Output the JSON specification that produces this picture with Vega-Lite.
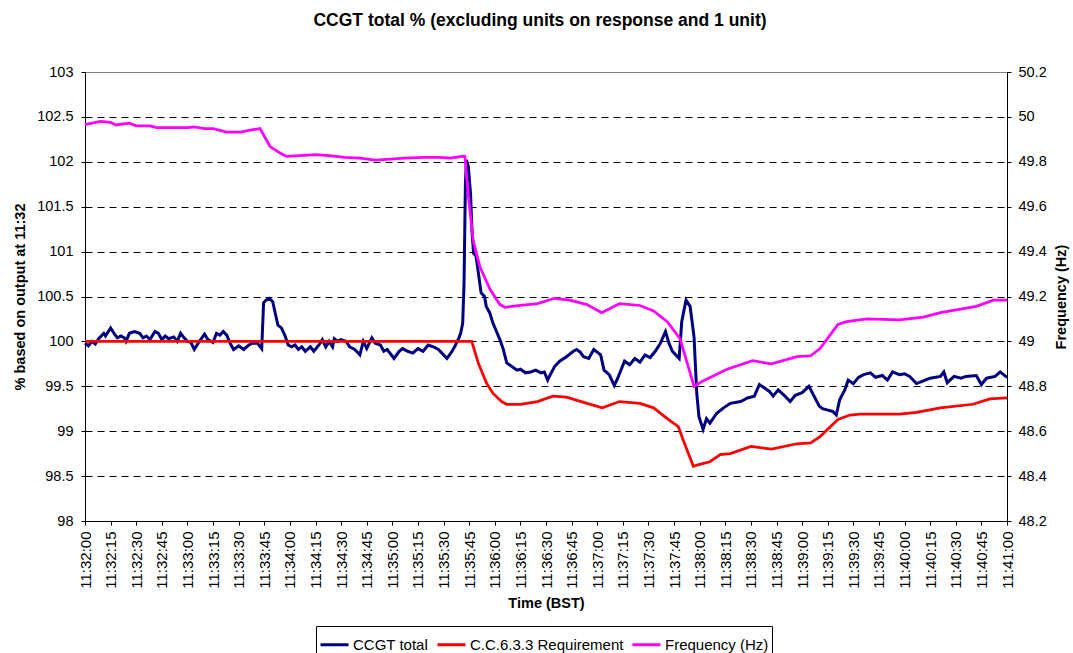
{
 "$schema": "https://vega.github.io/schema/vega-lite/v6.json",
 "width": 922,
 "height": 449,
 "autosize": {"type": "none"},
 "padding": {"left": 85, "top": 72, "right": 66, "bottom": 132},
 "background": "white",
 "title": {"text": "CCGT total % (excluding units on response and 1 unit)", "fontSize": 17.5, "fontWeight": "bold", "frame": "group", "anchor": "middle", "baseline": "alphabetic", "offset": 21, "dx": -6, "color": "#000"},
 "config": {
  "font": "Liberation Sans",
  "view": {"stroke": "#808080", "strokeWidth": 1},
  "axis": {"labelColor": "#000", "titleColor": "#000", "tickColor": "#000", "domainColor": "#000", "labelFontSize": 14.5, "titleFontSize": 14.5, "titleFontWeight": "bold", "tickSize": 4, "labelFlush": false}
 },
 "data": {"values": [
  {"t":0,"series":"CCGT total","value":99.98},{"t":2,"series":"CCGT total","value":99.95},{"t":4,"series":"CCGT total","value":100.0},{"t":6,"series":"CCGT total","value":99.97},{"t":8,"series":"CCGT total","value":100.03},{"t":11,"series":"CCGT total","value":100.09},{"t":12,"series":"CCGT total","value":100.06},{"t":15,"series":"CCGT total","value":100.15},{"t":17,"series":"CCGT total","value":100.09},{"t":19,"series":"CCGT total","value":100.04},{"t":21,"series":"CCGT total","value":100.06},{"t":23,"series":"CCGT total","value":100.04},{"t":24,"series":"CCGT total","value":100.0},{"t":26,"series":"CCGT total","value":100.09},{"t":29,"series":"CCGT total","value":100.11},{"t":32,"series":"CCGT total","value":100.09},{"t":34,"series":"CCGT total","value":100.04},{"t":36,"series":"CCGT total","value":100.06},{"t":38,"series":"CCGT total","value":100.02},{"t":41,"series":"CCGT total","value":100.11},{"t":43,"series":"CCGT total","value":100.09},{"t":45,"series":"CCGT total","value":100.02},{"t":47,"series":"CCGT total","value":100.06},{"t":49,"series":"CCGT total","value":100.03},{"t":52,"series":"CCGT total","value":100.05},{"t":54,"series":"CCGT total","value":100.0},{"t":56,"series":"CCGT total","value":100.09},{"t":58,"series":"CCGT total","value":100.04},{"t":60,"series":"CCGT total","value":100.0},{"t":62,"series":"CCGT total","value":99.99},{"t":64,"series":"CCGT total","value":99.91},{"t":67,"series":"CCGT total","value":100.0},{"t":70,"series":"CCGT total","value":100.08},{"t":72,"series":"CCGT total","value":100.02},{"t":75,"series":"CCGT total","value":99.99},{"t":77,"series":"CCGT total","value":100.09},{"t":79,"series":"CCGT total","value":100.07},{"t":81,"series":"CCGT total","value":100.11},{"t":83,"series":"CCGT total","value":100.07},{"t":85,"series":"CCGT total","value":99.98},{"t":87,"series":"CCGT total","value":99.91},{"t":90,"series":"CCGT total","value":99.95},{"t":93,"series":"CCGT total","value":99.91},{"t":96,"series":"CCGT total","value":99.96},{"t":98,"series":"CCGT total","value":99.98},{"t":101,"series":"CCGT total","value":99.98},{"t":103.5,"series":"CCGT total","value":99.92},{"t":104.6,"series":"CCGT total","value":100.43},{"t":106,"series":"CCGT total","value":100.46},{"t":108,"series":"CCGT total","value":100.48},{"t":110,"series":"CCGT total","value":100.44},{"t":111,"series":"CCGT total","value":100.35},{"t":113,"series":"CCGT total","value":100.18},{"t":115,"series":"CCGT total","value":100.15},{"t":117,"series":"CCGT total","value":100.07},{"t":119,"series":"CCGT total","value":99.96},{"t":121,"series":"CCGT total","value":99.94},{"t":123,"series":"CCGT total","value":99.96},{"t":125,"series":"CCGT total","value":99.91},{"t":127,"series":"CCGT total","value":99.94},{"t":129,"series":"CCGT total","value":99.89},{"t":132,"series":"CCGT total","value":99.94},{"t":134,"series":"CCGT total","value":99.89},{"t":137,"series":"CCGT total","value":99.96},{"t":139,"series":"CCGT total","value":100.02},{"t":141,"series":"CCGT total","value":99.94},{"t":143,"series":"CCGT total","value":100.0},{"t":145,"series":"CCGT total","value":99.94},{"t":146,"series":"CCGT total","value":100.03},{"t":148,"series":"CCGT total","value":100.0},{"t":150,"series":"CCGT total","value":100.02},{"t":153,"series":"CCGT total","value":100.0},{"t":155,"series":"CCGT total","value":99.94},{"t":158,"series":"CCGT total","value":99.91},{"t":161,"series":"CCGT total","value":99.85},{"t":163,"series":"CCGT total","value":100.0},{"t":165,"series":"CCGT total","value":99.92},{"t":168,"series":"CCGT total","value":100.04},{"t":170,"series":"CCGT total","value":99.98},{"t":173,"series":"CCGT total","value":99.96},{"t":175,"series":"CCGT total","value":99.89},{"t":177,"series":"CCGT total","value":99.91},{"t":181,"series":"CCGT total","value":99.81},{"t":184,"series":"CCGT total","value":99.89},{"t":186,"series":"CCGT total","value":99.92},{"t":189,"series":"CCGT total","value":99.89},{"t":192,"series":"CCGT total","value":99.87},{"t":195,"series":"CCGT total","value":99.92},{"t":198,"series":"CCGT total","value":99.89},{"t":201,"series":"CCGT total","value":99.96},{"t":204,"series":"CCGT total","value":99.94},{"t":207,"series":"CCGT total","value":99.91},{"t":210,"series":"CCGT total","value":99.85},{"t":212,"series":"CCGT total","value":99.81},{"t":215,"series":"CCGT total","value":99.89},{"t":217,"series":"CCGT total","value":99.96},{"t":219,"series":"CCGT total","value":100.04},{"t":220,"series":"CCGT total","value":100.09},{"t":221.2,"series":"CCGT total","value":100.2},{"t":222,"series":"CCGT total","value":100.65},{"t":222.8,"series":"CCGT total","value":101.76},{"t":223.4,"series":"CCGT total","value":102.02},{"t":224.5,"series":"CCGT total","value":101.95},{"t":225.8,"series":"CCGT total","value":101.65},{"t":226.7,"series":"CCGT total","value":101.21},{"t":227.6,"series":"CCGT total","value":100.98},{"t":229,"series":"CCGT total","value":100.95},{"t":230.4,"series":"CCGT total","value":100.76},{"t":232,"series":"CCGT total","value":100.54},{"t":234,"series":"CCGT total","value":100.5},{"t":235,"series":"CCGT total","value":100.39},{"t":237,"series":"CCGT total","value":100.32},{"t":239,"series":"CCGT total","value":100.2},{"t":241,"series":"CCGT total","value":100.11},{"t":243,"series":"CCGT total","value":100.02},{"t":245,"series":"CCGT total","value":99.91},{"t":247,"series":"CCGT total","value":99.76},{"t":250,"series":"CCGT total","value":99.72},{"t":253,"series":"CCGT total","value":99.68},{"t":255,"series":"CCGT total","value":99.69},{"t":258,"series":"CCGT total","value":99.65},{"t":261,"series":"CCGT total","value":99.66},{"t":264,"series":"CCGT total","value":99.68},{"t":267,"series":"CCGT total","value":99.65},{"t":269,"series":"CCGT total","value":99.66},{"t":271,"series":"CCGT total","value":99.57},{"t":272,"series":"CCGT total","value":99.61},{"t":275,"series":"CCGT total","value":99.72},{"t":278,"series":"CCGT total","value":99.78},{"t":282,"series":"CCGT total","value":99.83},{"t":286,"series":"CCGT total","value":99.89},{"t":288,"series":"CCGT total","value":99.91},{"t":290,"series":"CCGT total","value":99.88},{"t":292,"series":"CCGT total","value":99.83},{"t":295,"series":"CCGT total","value":99.81},{"t":298,"series":"CCGT total","value":99.91},{"t":302,"series":"CCGT total","value":99.85},{"t":304,"series":"CCGT total","value":99.68},{"t":307,"series":"CCGT total","value":99.63},{"t":310,"series":"CCGT total","value":99.51},{"t":312,"series":"CCGT total","value":99.59},{"t":316,"series":"CCGT total","value":99.78},{"t":319,"series":"CCGT total","value":99.74},{"t":322,"series":"CCGT total","value":99.81},{"t":325,"series":"CCGT total","value":99.77},{"t":328,"series":"CCGT total","value":99.85},{"t":331,"series":"CCGT total","value":99.82},{"t":334,"series":"CCGT total","value":99.89},{"t":337,"series":"CCGT total","value":99.98},{"t":340,"series":"CCGT total","value":100.11},{"t":342,"series":"CCGT total","value":99.98},{"t":344,"series":"CCGT total","value":99.89},{"t":346,"series":"CCGT total","value":99.85},{"t":348,"series":"CCGT total","value":99.81},{"t":349.5,"series":"CCGT total","value":100.22},{"t":352,"series":"CCGT total","value":100.46},{"t":354.4,"series":"CCGT total","value":100.39},{"t":356.7,"series":"CCGT total","value":100.05},{"t":358.3,"series":"CCGT total","value":99.42},{"t":359.6,"series":"CCGT total","value":99.16},{"t":362,"series":"CCGT total","value":99.02},{"t":364,"series":"CCGT total","value":99.14},{"t":366,"series":"CCGT total","value":99.09},{"t":370,"series":"CCGT total","value":99.2},{"t":374,"series":"CCGT total","value":99.26},{"t":378,"series":"CCGT total","value":99.31},{"t":384,"series":"CCGT total","value":99.33},{"t":388,"series":"CCGT total","value":99.37},{"t":392,"series":"CCGT total","value":99.39},{"t":395,"series":"CCGT total","value":99.52},{"t":398,"series":"CCGT total","value":99.48},{"t":401,"series":"CCGT total","value":99.44},{"t":403,"series":"CCGT total","value":99.39},{"t":406,"series":"CCGT total","value":99.46},{"t":410,"series":"CCGT total","value":99.39},{"t":413,"series":"CCGT total","value":99.33},{"t":416,"series":"CCGT total","value":99.4},{"t":420,"series":"CCGT total","value":99.43},{"t":424,"series":"CCGT total","value":99.5},{"t":427,"series":"CCGT total","value":99.39},{"t":430,"series":"CCGT total","value":99.28},{"t":432,"series":"CCGT total","value":99.25},{"t":434,"series":"CCGT total","value":99.24},{"t":438,"series":"CCGT total","value":99.22},{"t":440,"series":"CCGT total","value":99.18},{"t":442,"series":"CCGT total","value":99.35},{"t":445,"series":"CCGT total","value":99.46},{"t":447,"series":"CCGT total","value":99.57},{"t":450,"series":"CCGT total","value":99.53},{"t":453,"series":"CCGT total","value":99.6},{"t":456,"series":"CCGT total","value":99.63},{"t":460,"series":"CCGT total","value":99.65},{"t":463,"series":"CCGT total","value":99.6},{"t":467,"series":"CCGT total","value":99.62},{"t":470,"series":"CCGT total","value":99.57},{"t":473,"series":"CCGT total","value":99.66},{"t":477,"series":"CCGT total","value":99.63},{"t":480,"series":"CCGT total","value":99.64},{"t":483,"series":"CCGT total","value":99.61},{"t":487,"series":"CCGT total","value":99.53},{"t":491,"series":"CCGT total","value":99.56},{"t":495,"series":"CCGT total","value":99.59},{"t":501,"series":"CCGT total","value":99.61},{"t":503,"series":"CCGT total","value":99.66},{"t":505,"series":"CCGT total","value":99.54},{"t":509,"series":"CCGT total","value":99.61},{"t":513,"series":"CCGT total","value":99.59},{"t":516,"series":"CCGT total","value":99.61},{"t":522,"series":"CCGT total","value":99.62},{"t":525,"series":"CCGT total","value":99.52},{"t":528,"series":"CCGT total","value":99.59},{"t":533,"series":"CCGT total","value":99.61},{"t":536,"series":"CCGT total","value":99.66},{"t":540,"series":"CCGT total","value":99.6},
  {"t":0,"series":"C.C.6.3.3 Requirement","value":100.0},{"t":226.5,"series":"C.C.6.3.3 Requirement","value":100.0},{"t":230.5,"series":"C.C.6.3.3 Requirement","value":99.75},{"t":235.3,"series":"C.C.6.3.3 Requirement","value":99.53},{"t":239,"series":"C.C.6.3.3 Requirement","value":99.42},{"t":244,"series":"C.C.6.3.3 Requirement","value":99.33},{"t":247,"series":"C.C.6.3.3 Requirement","value":99.3},{"t":255,"series":"C.C.6.3.3 Requirement","value":99.3},{"t":265,"series":"C.C.6.3.3 Requirement","value":99.33},{"t":274,"series":"C.C.6.3.3 Requirement","value":99.39},{"t":282,"series":"C.C.6.3.3 Requirement","value":99.38},{"t":294,"series":"C.C.6.3.3 Requirement","value":99.31},{"t":303,"series":"C.C.6.3.3 Requirement","value":99.26},{"t":313,"series":"C.C.6.3.3 Requirement","value":99.33},{"t":325,"series":"C.C.6.3.3 Requirement","value":99.31},{"t":333,"series":"C.C.6.3.3 Requirement","value":99.26},{"t":341,"series":"C.C.6.3.3 Requirement","value":99.14},{"t":347.5,"series":"C.C.6.3.3 Requirement","value":99.05},{"t":350.4,"series":"C.C.6.3.3 Requirement","value":98.9},{"t":356.3,"series":"C.C.6.3.3 Requirement","value":98.61},{"t":360,"series":"C.C.6.3.3 Requirement","value":98.63},{"t":366,"series":"C.C.6.3.3 Requirement","value":98.66},{"t":372,"series":"C.C.6.3.3 Requirement","value":98.74},{"t":378,"series":"C.C.6.3.3 Requirement","value":98.75},{"t":390,"series":"C.C.6.3.3 Requirement","value":98.83},{"t":402,"series":"C.C.6.3.3 Requirement","value":98.8},{"t":417,"series":"C.C.6.3.3 Requirement","value":98.86},{"t":425,"series":"C.C.6.3.3 Requirement","value":98.87},{"t":430.5,"series":"C.C.6.3.3 Requirement","value":98.94},{"t":441,"series":"C.C.6.3.3 Requirement","value":99.13},{"t":448,"series":"C.C.6.3.3 Requirement","value":99.18},{"t":454,"series":"C.C.6.3.3 Requirement","value":99.19},{"t":477,"series":"C.C.6.3.3 Requirement","value":99.19},{"t":487,"series":"C.C.6.3.3 Requirement","value":99.21},{"t":501,"series":"C.C.6.3.3 Requirement","value":99.26},{"t":520,"series":"C.C.6.3.3 Requirement","value":99.3},{"t":530,"series":"C.C.6.3.3 Requirement","value":99.36},{"t":540,"series":"C.C.6.3.3 Requirement","value":99.37},
  {"t":0,"series":"Frequency (Hz)","value":49.966},{"t":9,"series":"Frequency (Hz)","value":49.98},{"t":15,"series":"Frequency (Hz)","value":49.976},{"t":18,"series":"Frequency (Hz)","value":49.964},{"t":26,"series":"Frequency (Hz)","value":49.972},{"t":30,"series":"Frequency (Hz)","value":49.96},{"t":38,"series":"Frequency (Hz)","value":49.96},{"t":42,"series":"Frequency (Hz)","value":49.952},{"t":52,"series":"Frequency (Hz)","value":49.952},{"t":60,"series":"Frequency (Hz)","value":49.952},{"t":64,"series":"Frequency (Hz)","value":49.956},{"t":70,"series":"Frequency (Hz)","value":49.948},{"t":75,"series":"Frequency (Hz)","value":49.948},{"t":83,"series":"Frequency (Hz)","value":49.932},{"t":91,"series":"Frequency (Hz)","value":49.932},{"t":96,"series":"Frequency (Hz)","value":49.94},{"t":102.5,"series":"Frequency (Hz)","value":49.948},{"t":108.4,"series":"Frequency (Hz)","value":49.868},{"t":114,"series":"Frequency (Hz)","value":49.84},{"t":118,"series":"Frequency (Hz)","value":49.824},{"t":126,"series":"Frequency (Hz)","value":49.828},{"t":135,"series":"Frequency (Hz)","value":49.832},{"t":143,"series":"Frequency (Hz)","value":49.828},{"t":152,"series":"Frequency (Hz)","value":49.82},{"t":161,"series":"Frequency (Hz)","value":49.816},{"t":170,"series":"Frequency (Hz)","value":49.808},{"t":179,"series":"Frequency (Hz)","value":49.812},{"t":187,"series":"Frequency (Hz)","value":49.816},{"t":199,"series":"Frequency (Hz)","value":49.82},{"t":208,"series":"Frequency (Hz)","value":49.82},{"t":214,"series":"Frequency (Hz)","value":49.816},{"t":221,"series":"Frequency (Hz)","value":49.824},{"t":222.5,"series":"Frequency (Hz)","value":49.824},{"t":224.5,"series":"Frequency (Hz)","value":49.648},{"t":227.4,"series":"Frequency (Hz)","value":49.448},{"t":231.3,"series":"Frequency (Hz)","value":49.332},{"t":237.2,"series":"Frequency (Hz)","value":49.232},{"t":243,"series":"Frequency (Hz)","value":49.164},{"t":246,"series":"Frequency (Hz)","value":49.152},{"t":255,"series":"Frequency (Hz)","value":49.16},{"t":265,"series":"Frequency (Hz)","value":49.168},{"t":275,"series":"Frequency (Hz)","value":49.192},{"t":284,"series":"Frequency (Hz)","value":49.184},{"t":294,"series":"Frequency (Hz)","value":49.164},{"t":302.6,"series":"Frequency (Hz)","value":49.128},{"t":313,"series":"Frequency (Hz)","value":49.168},{"t":325,"series":"Frequency (Hz)","value":49.16},{"t":333,"series":"Frequency (Hz)","value":49.136},{"t":341,"series":"Frequency (Hz)","value":49.088},{"t":348.5,"series":"Frequency (Hz)","value":49.012},{"t":356.7,"series":"Frequency (Hz)","value":48.8},{"t":362,"series":"Frequency (Hz)","value":48.824},{"t":376,"series":"Frequency (Hz)","value":48.876},{"t":391,"series":"Frequency (Hz)","value":48.914},{"t":402,"series":"Frequency (Hz)","value":48.9},{"t":417,"series":"Frequency (Hz)","value":48.932},{"t":425,"series":"Frequency (Hz)","value":48.936},{"t":430.5,"series":"Frequency (Hz)","value":48.968},{"t":441,"series":"Frequency (Hz)","value":49.076},{"t":446,"series":"Frequency (Hz)","value":49.088},{"t":458,"series":"Frequency (Hz)","value":49.1},{"t":477,"series":"Frequency (Hz)","value":49.096},{"t":491,"series":"Frequency (Hz)","value":49.108},{"t":501,"series":"Frequency (Hz)","value":49.128},{"t":522,"series":"Frequency (Hz)","value":49.156},{"t":532,"series":"Frequency (Hz)","value":49.184},{"t":540,"series":"Frequency (Hz)","value":49.184}
 ]},
 "encoding": {
  "x": {"field": "t", "type": "quantitative", "scale": {"domain": [0, 540], "nice": false, "zero": false},
   "axis": {"values": [0,15,30,45,60,75,90,105,120,135,150,165,180,195,210,225,240,255,270,285,300,315,330,345,360,375,390,405,420,435,450,465,480,495,510,525,540],
    "labelExpr": "utcFormat((datum.value + 41520) * 1000, '%H:%M:%S')", "labelAngle": 270, "labelFontSize": 15, "labelPadding": 6, "grid": false, "title": "Time (BST)", "titlePadding": 8}}
 },
 "layer": [
  {
   "encoding": {"y": {"field": "value", "type": "quantitative", "scale": {"domain": [98, 103], "nice": false, "zero": false},
    "axis": {"values": [98,98.5,99,99.5,100,100.5,101,101.5,102,102.5,103], "format": "~g", "title": "% based on output at 11:32", "labelPadding": 8, "titlePadding": 9,
     "grid": true, "gridColor": "#000", "gridDash": [7, 5], "gridWidth": 1,
     "gridOpacity": {"condition": {"test": "datum.value >= 103 || datum.value <= 98", "value": 0}, "value": 1}}}},
   "layer": [
    {"transform": [{"filter": "datum.series === 'CCGT total'"}], "mark": {"type": "line", "strokeWidth": 3},
     "encoding": {"color": {"field": "series", "type": "nominal", "scale": {"domain": ["CCGT total", "C.C.6.3.3 Requirement", "Frequency (Hz)"], "range": ["#000080", "#FF0000", "#FF00FF"]},
      "legend": {"orient": "none", "legendX": 231, "legendY": 554, "direction": "horizontal", "title": null, "symbolType": "stroke", "symbolSize": 784, "symbolStrokeWidth": 3, "labelFontSize": 15, "labelColor": "#000", "labelOffset": 3, "columnPadding": 2, "padding": 3, "strokeColor": "#000"}}}},
    {"transform": [{"filter": "datum.series === 'C.C.6.3.3 Requirement'"}], "mark": {"type": "line", "strokeWidth": 2.75},
     "encoding": {"color": {"field": "series", "type": "nominal", "scale": {"domain": ["CCGT total", "C.C.6.3.3 Requirement", "Frequency (Hz)"], "range": ["#000080", "#FF0000", "#FF00FF"]},
      "legend": {"orient": "none", "legendX": 231, "legendY": 554, "direction": "horizontal", "title": null, "symbolType": "stroke", "symbolSize": 784, "symbolStrokeWidth": 3, "labelFontSize": 15, "labelColor": "#000", "labelOffset": 3, "columnPadding": 2, "padding": 3, "strokeColor": "#000"}}}}
   ]
  },
  {"transform": [{"filter": "datum.series === 'Frequency (Hz)'"}], "mark": {"type": "line", "strokeWidth": 2.75},
   "encoding": {
    "y": {"field": "value", "type": "quantitative", "scale": {"domain": [48.2, 50.2], "nice": false, "zero": false},
     "axis": {"orient": "right", "values": [48.2,48.4,48.6,48.8,49,49.2,49.4,49.6,49.8,50,50.2], "format": "~g", "title": "Frequency (Hz)", "titleAngle": 270, "titleBaseline": "top", "labelPadding": 7, "titlePadding": 8, "grid": false}},
    "color": {"field": "series", "type": "nominal", "scale": {"domain": ["CCGT total", "C.C.6.3.3 Requirement", "Frequency (Hz)"], "range": ["#000080", "#FF0000", "#FF00FF"]},
     "legend": {"orient": "none", "legendX": 231, "legendY": 554, "direction": "horizontal", "title": null, "symbolType": "stroke", "symbolSize": 784, "symbolStrokeWidth": 3, "labelFontSize": 15, "labelColor": "#000", "labelOffset": 3, "columnPadding": 2, "padding": 3, "strokeColor": "#000"}}}}
 ],
 "resolve": {"scale": {"y": "independent"}}
}
